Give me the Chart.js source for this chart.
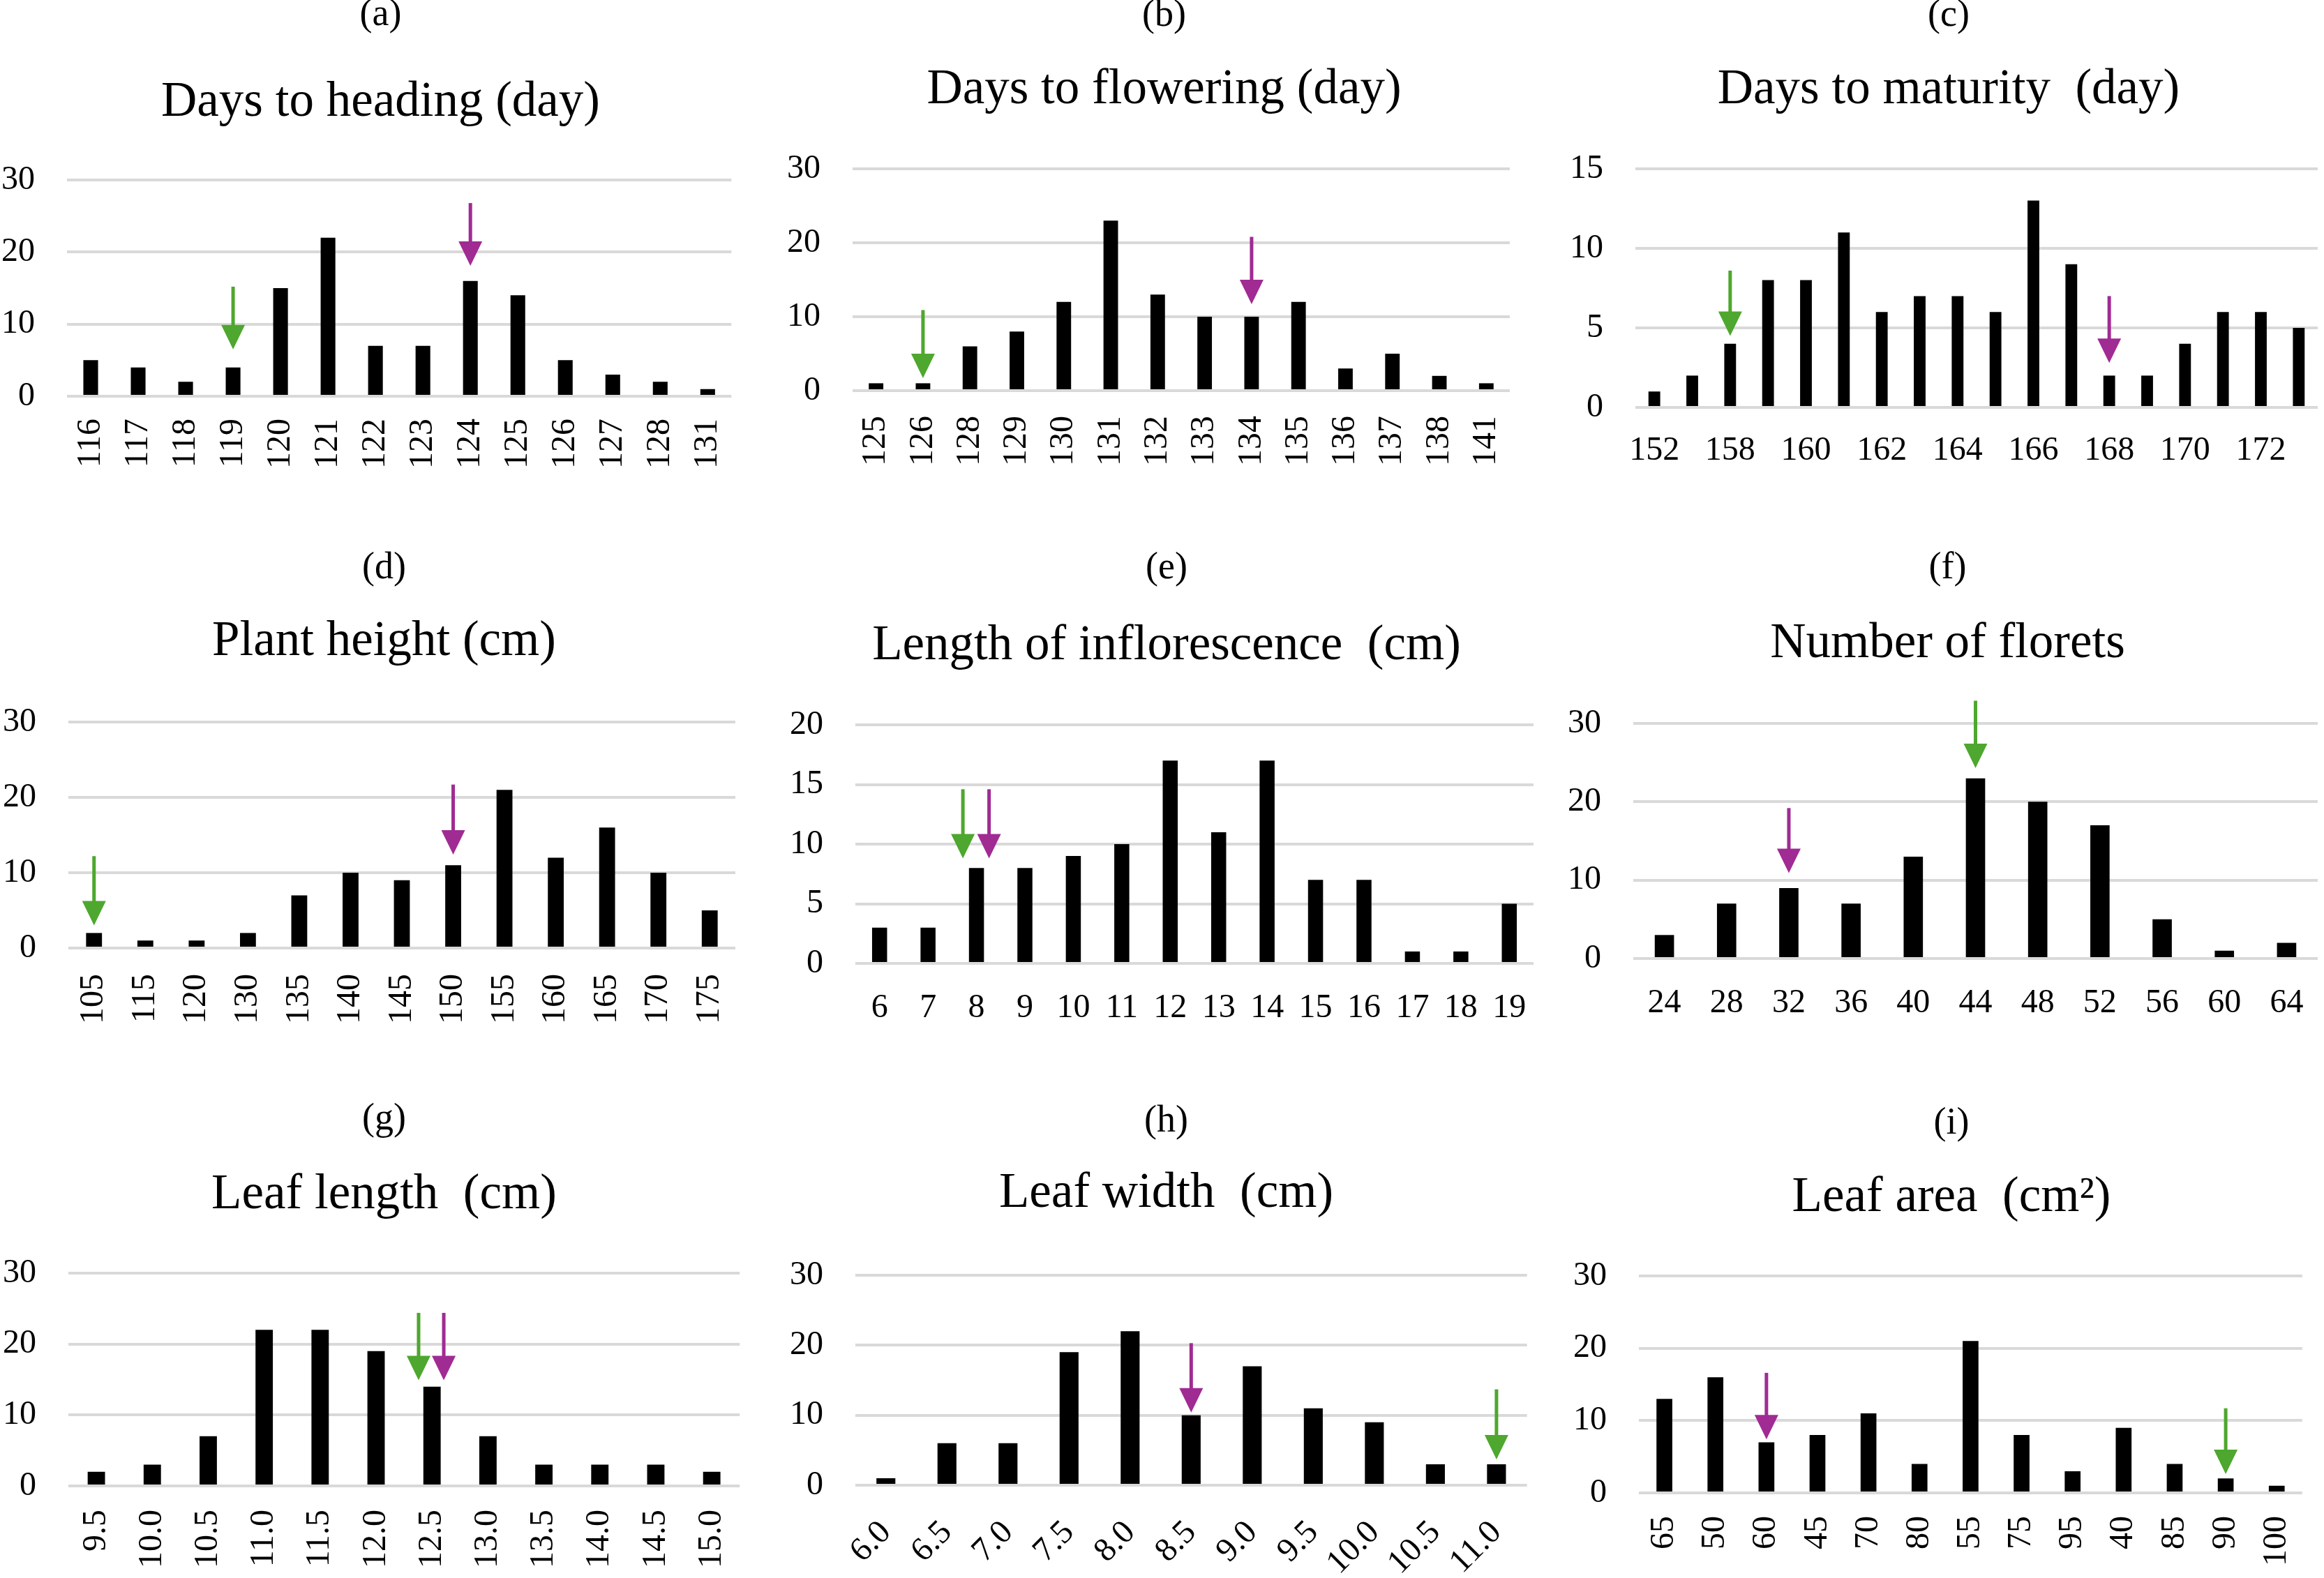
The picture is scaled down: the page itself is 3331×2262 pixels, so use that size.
<!DOCTYPE html>
<html>
<head>
<meta charset="utf-8">
<script src="https://cdn.jsdelivr.net/npm/chart.js@4.4.1/dist/chart.umd.min.js"></script>
<style>
  html, body { margin: 0; padding: 0; background: #fff; }
  body { position: relative; width: 3331px; height: 2262px; overflow: hidden; }
  .panel { position: absolute; }
</style>
</head>
<body>
<script>
// ── Data ──

const labelsA = ["116", "117", "118", "119", "120", "121", "122", "123", "124", "125", "126", "127", "128", "131"];
const countsA = [5, 4, 2, 4, 15, 22, 7, 7, 16, 14, 5, 3, 2, 1];
const arrowsA = [
  { at: 3, from: 15.2, to: 6.5, kind: "green" },
  { at: 8, from: 26.8, to: 18.1, kind: "purple" },
];

const labelsB = ["125", "126", "128", "129", "130", "131", "132", "133", "134", "135", "136", "137", "138", "141"];
const countsB = [1, 1, 6, 8, 12, 23, 13, 10, 10, 12, 3, 5, 2, 1];
const arrowsB = [
  { at: 1, from: 10.9, to: 1.7, kind: "green" },
  { at: 8, from: 20.8, to: 11.7, kind: "purple" },
];

// only every other label is printed on this axis
const labelsC = ["152", "157", "158", "159", "160", "161", "162", "163", "164", "165", "166", "167", "168", "169", "170", "171", "172", "173"];
const countsC = [1, 2, 4, 8, 8, 11, 6, 7, 7, 6, 13, 9, 2, 2, 4, 6, 6, 5];
const arrowsC = [
  { at: 2, from: 8.6, to: 4.5, kind: "green" },
  { at: 12, from: 7.0, to: 2.8, kind: "purple" },
];

const labelsD = ["105", "115", "120", "130", "135", "140", "145", "150", "155", "160", "165", "170", "175"];
const countsD = [2, 1, 1, 2, 7, 10, 9, 11, 21, 12, 16, 10, 5];
const arrowsD = [
  { at: 0, from: 12.2, to: 3.0, kind: "green" },
  { at: 7, from: 21.7, to: 12.4, kind: "purple" },
];

const labelsE = ["6", "7", "8", "9", "10", "11", "12", "13", "14", "15", "16", "17", "18", "19"];
const countsE = [3, 3, 8, 8, 9, 10, 17, 11, 17, 7, 7, 1, 1, 5];
const arrowsE = [
  { at: 1.72, from: 14.6, to: 8.8, kind: "green" },
  { at: 2.26, from: 14.6, to: 8.8, kind: "purple" },
];

const labelsF = ["24", "28", "32", "36", "40", "44", "48", "52", "56", "60", "64"];
const countsF = [3, 7, 9, 7, 13, 23, 20, 17, 5, 1, 2];
const arrowsF = [
  { at: 2, from: 19.2, to: 10.9, kind: "purple" },
  { at: 5, from: 32.9, to: 24.3, kind: "green" },
];

const labelsG = ["9.5", "10.0", "10.5", "11.0", "11.5", "12.0", "12.5", "13.0", "13.5", "14.0", "14.5", "15.0"];
const countsG = [2, 3, 7, 22, 22, 19, 14, 7, 3, 3, 3, 2];
const arrowsG = [
  { at: 5.76, from: 24.4, to: 14.9, kind: "green" },
  { at: 6.21, from: 24.4, to: 14.9, kind: "purple" },
];

const labelsH = ["6.0", "6.5", "7.0", "7.5", "8.0", "8.5", "9.0", "9.5", "10.0", "10.5", "11.0"];
const countsH = [1, 6, 6, 19, 22, 10, 17, 11, 9, 3, 3];
const arrowsH = [
  { at: 5, from: 20.3, to: 10.4, kind: "purple" },
  { at: 10, from: 13.7, to: 3.7, kind: "green" },
];

const labelsI = ["65", "50", "60", "45", "70", "80", "55", "75", "95", "40", "85", "90", "100"];
const countsI = [13, 16, 7, 8, 11, 4, 21, 8, 3, 9, 4, 2, 1];
const arrowsI = [
  { at: 2, from: 16.6, to: 7.4, kind: "purple" },
  { at: 11, from: 11.7, to: 2.6, kind: "green" },
];

// ── Panels ──

const panels = [
  { tag: "(a)", title: "Days to heading (day)", labels: labelsA, counts: countsA, arrows: arrowsA, yMax: 30, yStep: 10 },
  { tag: "(b)", title: "Days to flowering (day)", labels: labelsB, counts: countsB, arrows: arrowsB, yMax: 30, yStep: 10 },
  { tag: "(c)", title: "Days to maturity  (day)", labels: labelsC, counts: countsC, arrows: arrowsC, yMax: 15, yStep: 5, every: 2 },
  { tag: "(d)", title: "Plant height (cm)", labels: labelsD, counts: countsD, arrows: arrowsD, yMax: 30, yStep: 10 },
  { tag: "(e)", title: "Length of inflorescence  (cm)", labels: labelsE, counts: countsE, arrows: arrowsE, yMax: 20, yStep: 5 },
  { tag: "(f)", title: "Number of florets", labels: labelsF, counts: countsF, arrows: arrowsF, yMax: 30, yStep: 10 },
  { tag: "(g)", title: "Leaf length  (cm)", labels: labelsG, counts: countsG, arrows: arrowsG, yMax: 30, yStep: 10 },
  { tag: "(h)", title: "Leaf width  (cm)", labels: labelsH, counts: countsH, arrows: arrowsH, yMax: 30, yStep: 10 },
  { tag: "(i)", title: "Leaf area  (cm\u00B2)", labels: labelsI, counts: countsI, arrows: arrowsI, yMax: 30, yStep: 10 },
];

// plot-area placement of each panel on the page (pixels)
const frames = [
  { plotL: 96, plotR: 1075, plotT: 258, plotB: 568, tagMid: 22, titleMid: 147, xH: 130, pad: 32, rot: 90 },
  { plotL: 1222, plotR: 2195, plotT: 242, plotB: 560, tagMid: 23, titleMid: 129, xH: 130, pad: 36, rot: 90 },
  { plotL: 2344, plotR: 3322, plotT: 242, plotB: 584, tagMid: 23, titleMid: 129, xH: 100, pad: 34, rot: 0 },
  { plotL: 98, plotR: 1083, plotT: 1035, plotB: 1359, tagMid: 815, titleMid: 920, xH: 130, pad: 37, rot: 90 },
  { plotL: 1226, plotR: 2198, plotT: 1039, plotB: 1381, tagMid: 815, titleMid: 926, xH: 100, pad: 36, rot: 0 },
  { plotL: 2341, plotR: 3322, plotT: 1037, plotB: 1374, tagMid: 815, titleMid: 923, xH: 100, pad: 36, rot: 0 },
  { plotL: 98, plotR: 1083, plotT: 1825, plotB: 2130, tagMid: 1605, titleMid: 1713, xH: 130, pad: 34, rot: 90 },
  { plotL: 1226, plotR: 2197, plotT: 1828, plotB: 2129, tagMid: 1608, titleMid: 1711, xH: 130, pad: 40, rot: 45 },
  { plotL: 2349, plotR: 3325, plotT: 1829, plotB: 2140, tagMid: 1611, titleMid: 1717, xH: 130, pad: 33, rot: 90 },
];

const FONT = "'Liberation Serif', 'Times New Roman', serif";
const TAG_SIZE = 54;
const TITLE_SIZE = 71;
const TICK_SIZE = 48;
// y label strip on the left; an empty strip on the right keeps the titles centred
const Y_AXIS_W = 110;
const RIGHT_W = 30;
const PAD_L = 10;
const ARROW_COLORS = { green: "#4EA72E", purple: "#A02B93" };

function arrowPlugin(list) {
  return {
    id: "arrows",
    afterDatasetsDraw(chart) {
      const { ctx } = chart;
      const x = chart.scales.x;
      const y = chart.scales.y;
      list.forEach((a) => {
        const px = x.getPixelForValue(a.at);
        const top = y.getPixelForValue(a.from);
        const tip = y.getPixelForValue(a.to);
        const head = 35;
        ctx.save();
        ctx.strokeStyle = ARROW_COLORS[a.kind];
        ctx.fillStyle = ARROW_COLORS[a.kind];
        ctx.lineWidth = 5;
        ctx.beginPath();
        ctx.moveTo(px, top);
        ctx.lineTo(px, tip - head + 2);
        ctx.stroke();
        ctx.beginPath();
        ctx.moveTo(px - 17, tip - head);
        ctx.lineTo(px + 17, tip - head);
        ctx.lineTo(px, tip);
        ctx.closePath();
        ctx.fill();
        ctx.restore();
      });
    },
  };
}

panels.forEach((p, i) => {
  const f = frames[i];
  const left = f.plotL - Y_AXIS_W - PAD_L;
  const width = f.plotR + RIGHT_W - left;
  const top = f.tagMid - TAG_SIZE / 2;
  const height = f.plotB + f.xH - top;
  const gap1 = f.titleMid - f.tagMid - TAG_SIZE / 2 - TITLE_SIZE / 2;
  const gap2 = f.plotT - f.titleMid - TITLE_SIZE / 2;

  const box = document.createElement("div");
  box.className = "panel";
  box.style.left = left + "px";
  box.style.top = top + "px";
  box.style.width = width + "px";
  box.style.height = height + "px";
  const canvas = document.createElement("canvas");
  box.appendChild(canvas);
  document.body.appendChild(box);

  const every = p.every || 1;

  new Chart(canvas, {
    type: "bar",
    data: {
      labels: p.labels,
      datasets: [
        {
          data: p.counts,
          backgroundColor: "#000000",
          borderWidth: 0,
          barPercentage: 0.31,
          categoryPercentage: 1,
        },
      ],
    },
    plugins: [arrowPlugin(p.arrows)],
    options: {
      responsive: true,
      maintainAspectRatio: false,
      animation: false,
      layout: { padding: { left: PAD_L, right: 0, top: 0, bottom: 0 } },
      plugins: {
        legend: { display: false },
        tooltip: { enabled: false },
        title: {
          display: true,
          text: p.tag,
          color: "#000",
          font: { family: FONT, size: TAG_SIZE, weight: "normal", lineHeight: 1 },
          padding: { top: 0, bottom: gap1 },
        },
        subtitle: {
          display: true,
          text: p.title,
          color: "#000",
          font: { family: FONT, size: TITLE_SIZE, weight: "normal", lineHeight: 1 },
          padding: { top: 0, bottom: gap2 },
        },
      },
      scales: {
        x: {
          grid: { display: false, drawTicks: false },
          border: { display: false },
          ticks: {
            color: "#000",
            font: { family: FONT, size: TICK_SIZE },
            autoSkip: false,
            minRotation: f.rot,
            maxRotation: f.rot,
            padding: f.pad,
            callback: (v, idx) => (idx % every === 0 ? p.labels[idx] : ""),
          },
          afterFit: (s) => { s.height = f.xH; },
        },
        y: {
          min: 0,
          max: p.yMax,
          grid: { color: "#d9d9d9", lineWidth: 4, drawTicks: false },
          border: { display: false },
          ticks: {
            stepSize: p.yStep,
            color: "#000",
            font: { family: FONT, size: TICK_SIZE },
            padding: 46,
          },
          afterFit: (s) => { s.width = Y_AXIS_W; },
        },
        spacer: {
          type: "linear",
          position: "right",
          grid: { display: false, drawTicks: false },
          border: { display: false },
          ticks: { display: false },
          afterFit: (s) => { s.width = RIGHT_W; },
        },
      },
    },
  });
});
</script>
</body>
</html>
